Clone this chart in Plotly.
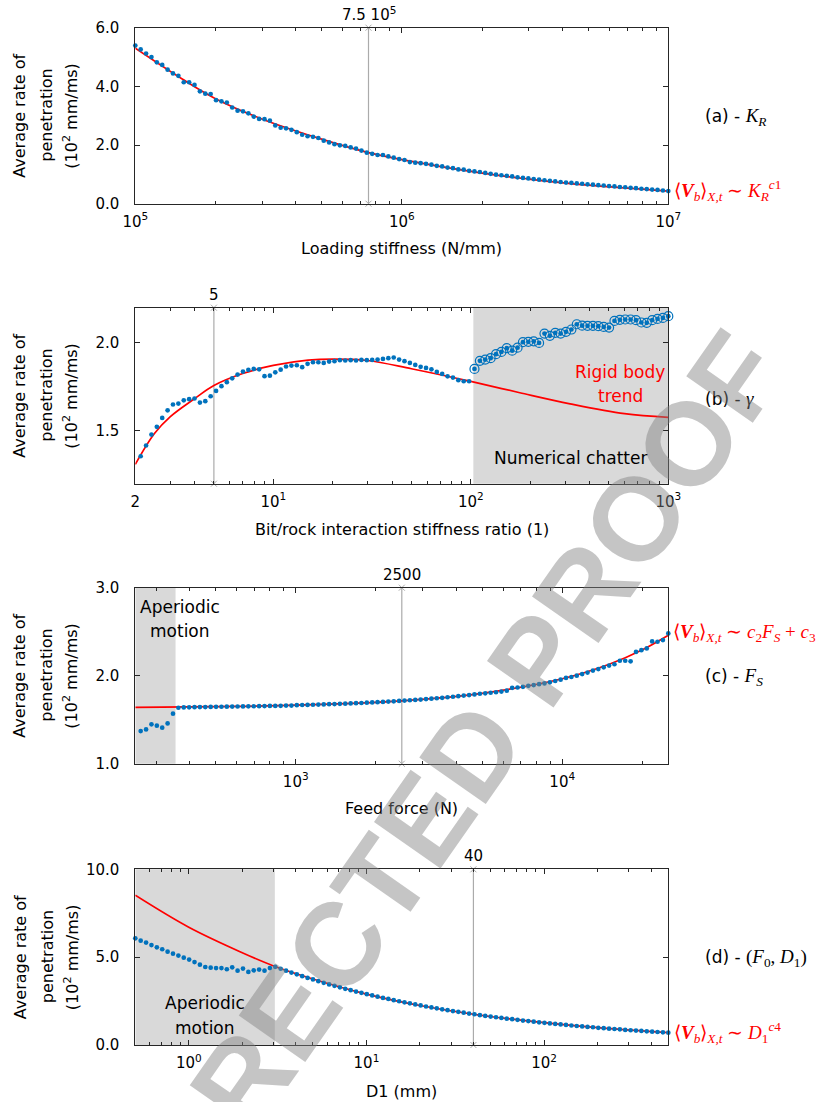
import numpy as np
import plotly.graph_objects as go

# ---------------- data ----------------
# (a) loading stiffness sweep
a_range = (1e5, 1e7)
a_rate = [5.39, 5.26, 5.12, 5.00, 4.82, 4.73, 4.57, 4.44, 4.36, 4.14,
          4.14, 4.05, 3.83, 3.75, 3.74, 3.53, 3.49, 3.45, 3.28, 3.17,
          3.15, 3.08, 2.97, 2.89, 2.88, 2.83, 2.67, 2.59, 2.57, 2.52,
          2.44, 2.35, 2.30, 2.28, 2.24, 2.15, 2.09, 2.03, 1.99, 1.97,
          1.92, 1.88, 1.81, 1.74, 1.70, 1.66, 1.66, 1.61, 1.57, 1.52,
          1.49, 1.42, 1.40, 1.38, 1.36, 1.33, 1.29, 1.27, 1.23, 1.21,
          1.17, 1.16, 1.12, 1.10, 1.08, 1.05, 1.02, 0.99, 0.97, 0.95,
          0.93, 0.90, 0.88, 0.86, 0.84, 0.82, 0.80, 0.78, 0.76, 0.74,
          0.72, 0.71, 0.69, 0.68, 0.66, 0.65, 0.63, 0.62, 0.60, 0.59,
          0.57, 0.56, 0.54, 0.53, 0.51, 0.50, 0.48, 0.47, 0.45, 0.43]
a_fit_x = [1e5, 1.5e5, 2e5, 3e5, 5e5, 7.5e5, 1e6, 2e6, 3e6, 5e6, 1e7]
a_fit = [5.30, 4.25, 3.58, 2.88, 2.20, 1.74, 1.50, 1.04, 0.84, 0.63, 0.43]
a_mark = 7.5e5

# (b) bit/rock interaction stiffness ratio sweep
b_range = (2, 1000)
b_rate = [1.309, 1.356, 1.417, 1.479, 1.523, 1.574, 1.617, 1.650, 1.655, 1.674,
          1.680, 1.684, 1.661, 1.669, 1.697, 1.727, 1.754, 1.777, 1.799, 1.820,
          1.837, 1.847, 1.852, 1.850, 1.811, 1.814, 1.833, 1.848, 1.866, 1.871,
          1.873, 1.862, 1.881, 1.890, 1.890, 1.886, 1.894, 1.896, 1.902, 1.900,
          1.902, 1.900, 1.903, 1.902, 1.903, 1.905, 1.909, 1.913, 1.917, 1.905,
          1.896, 1.886, 1.875, 1.864, 1.858, 1.850, 1.835, 1.824, 1.810, 1.803,
          1.788, 1.782, 1.782, 1.852, 1.898, 1.905, 1.913, 1.936, 1.949, 1.970,
          1.956, 1.973, 2.004, 2.006, 2.009, 2.000, 2.053, 2.040, 2.057, 2.053,
          2.063, 2.076, 2.106, 2.098, 2.097, 2.097, 2.095, 2.091, 2.087, 2.125,
          2.131, 2.133, 2.133, 2.129, 2.116, 2.114, 2.129, 2.136, 2.142, 2.152]
b_chatter_from = 63          # first sample inside the numerical-chatter zone
b_chatter_x0 = 103
b_fit_x = [2, 2.5, 3, 4, 5, 7, 10, 15, 20, 30, 50, 100, 177, 318, 600, 1000]
b_fit = [1.31, 1.485, 1.58, 1.684, 1.758, 1.826, 1.872, 1.902, 1.908, 1.900,
         1.853, 1.781, 1.717, 1.654, 1.598, 1.577]
b_mark = 5

# (c) feed force sweep
c_range = (250, 25000)
c_rate = [1.458, 1.371, 1.390, 1.447, 1.432, 1.409, 1.458, 1.568, 1.636, 1.640,
          1.641, 1.642, 1.643, 1.644, 1.645, 1.646, 1.647, 1.648, 1.649, 1.650,
          1.651, 1.652, 1.653, 1.654, 1.655, 1.656, 1.657, 1.658, 1.660, 1.661,
          1.665, 1.667, 1.668, 1.670, 1.672, 1.674, 1.676, 1.678, 1.680, 1.682,
          1.685, 1.688, 1.690, 1.693, 1.696, 1.699, 1.702, 1.706, 1.709, 1.713,
          1.717, 1.721, 1.725, 1.729, 1.734, 1.739, 1.744, 1.749, 1.755, 1.761,
          1.767, 1.774, 1.780, 1.787, 1.795, 1.800, 1.806, 1.812, 1.820, 1.830,
          1.862, 1.866, 1.874, 1.885, 1.893, 1.904, 1.912, 1.925, 1.940, 1.955,
          1.975, 1.985, 2.000, 2.018, 2.035, 2.058, 2.075, 2.095, 2.115, 2.130,
          2.170, 2.170, 2.163, 2.270, 2.290, 2.310, 2.390, 2.386, 2.405, 2.480]
c_aperiodic_x1 = 354
c_fit_x = [250, 500, 1000, 2500, 5000, 10000, 15000, 20000, 25000]
c_fit = [1.640, 1.649, 1.665, 1.715, 1.800, 1.965, 2.130, 2.295, 2.460]
c_mark = 2500

# (d) D1 sweep
d_range = (0.5, 500)
d_rate = [6.07, 5.94, 5.83, 5.69, 5.56, 5.45, 5.31, 5.20, 5.09, 4.97,
          4.86, 4.72, 4.57, 4.44, 4.40, 4.38, 4.38, 4.31, 4.42, 4.23,
          4.35, 4.16, 4.25, 4.29, 4.23, 4.38, 4.45, 4.34, 4.23, 4.12,
          4.02, 3.92, 3.82, 3.73, 3.63, 3.54, 3.45, 3.37, 3.28, 3.20,
          3.12, 3.04, 2.97, 2.89, 2.82, 2.75, 2.68, 2.62, 2.55, 2.49,
          2.43, 2.37, 2.31, 2.25, 2.19, 2.14, 2.09, 2.03, 1.98, 1.93,
          1.89, 1.84, 1.79, 1.75, 1.70, 1.66, 1.62, 1.58, 1.54, 1.50,
          1.47, 1.43, 1.39, 1.36, 1.33, 1.29, 1.26, 1.23, 1.20, 1.17,
          1.14, 1.11, 1.08, 1.06, 1.03, 1.01, 0.98, 0.96, 0.93, 0.91,
          0.89, 0.86, 0.84, 0.82, 0.80, 0.78, 0.76, 0.74, 0.72, 0.70]
d_aperiodic_x1 = 3.05
d_fit_x = [0.5, 1, 2, 3, 5, 10, 20, 40, 100, 200, 500]
d_fit = [8.52, 6.70, 5.25, 4.50, 3.76, 2.90, 2.25, 1.75, 1.27, 0.99, 0.70]
d_mark = 40

# sample grids (the sweeps are log-spaced between their bounds)
a_x = np.geomspace(*a_range, len(a_rate))
b_x = np.geomspace(*b_range, len(b_rate))
c_x = np.geomspace(*c_range, len(c_rate))
d_x = np.geomspace(*d_range, len(d_rate))

# ---------------- style ----------------
W, H = 840, 1102
BLUE = '#0072BD'
RED = '#FF0000'
SHADE = '#d9d9d9'
VLINE = '#ababab'
AX = '#262626'
FONT = 'DejaVu Sans'
SERIF = 'Liberation Serif'
PX_L, PX_R = 135.3, 668.3
PANELS = [(27.7, 203.7), (307.7, 483.7), (587.7, 763.7), (869.3, 1045.0)]


def px(x):
    return x / W


def py(y):
    return 1 - y / H


fig = go.Figure()

sfx = ['', '2', '3', '4']
xs = [a_x, b_x, c_x, d_x]
ys = [a_rate, b_rate, c_rate, d_rate]
fx = [a_fit_x, b_fit_x, c_fit_x, d_fit_x]
fy = [a_fit, b_fit, c_fit, d_fit]
marks = [a_mark, b_mark, c_mark, d_mark]
yr = [(0, 6), (1.2, 2.2), (1, 3), (0, 10)]

for k in range(4):
    xa, ya = 'x' + sfx[k], 'y' + sfx[k]
    fig.add_trace(go.Scatter(
        x=[marks[k], marks[k]], y=[yr[k][0], yr[k][1]], mode='lines+markers',
        line=dict(color=VLINE, width=1.2),
        marker=dict(symbol='x-thin', size=6, line=dict(color=VLINE, width=1)),
        cliponaxis=False, xaxis=xa, yaxis=ya, showlegend=False, hoverinfo='skip'))
    fig.add_trace(go.Scatter(
        x=fx[k], y=fy[k], mode='lines',
        line=dict(color=RED, width=1.7, shape='spline', smoothing=1.0),
        xaxis=xa, yaxis=ya, showlegend=False))
    fig.add_trace(go.Scatter(
        x=xs[k], y=ys[k], mode='markers',
        marker=dict(color=BLUE, size=4.7, line=dict(width=0)),
        cliponaxis=False, xaxis=xa, yaxis=ya, showlegend=False))

fig.add_trace(go.Scatter(
    x=b_x[b_chatter_from:], y=b_rate[b_chatter_from:], mode='markers',
    marker=dict(symbol='circle-open', color=BLUE, size=9, line=dict(width=1.2, color=BLUE)),
    cliponaxis=False, xaxis='x2', yaxis='y2', showlegend=False))

shapes = [
    dict(type='rect', xref='x2', yref='y2 domain', x0=b_chatter_x0, x1=b_range[1], y0=0, y1=1,
         fillcolor=SHADE, line=dict(width=0), layer='below'),
    dict(type='rect', xref='x3', yref='y3 domain', x0=c_range[0], x1=c_aperiodic_x1, y0=0, y1=1,
         fillcolor=SHADE, line=dict(width=0), layer='below'),
    dict(type='rect', xref='x4', yref='y4 domain', x0=d_range[0], x1=d_aperiodic_x1, y0=0, y1=1,
         fillcolor=SHADE, line=dict(width=0), layer='below'),
]


def minor_vals(lo_dec, hi_dec, lo, hi):
    out = []
    for d in range(lo_dec, hi_dec + 1):
        for m in range(2, 10):
            v = m * 10.0 ** d
            if lo < v < hi:
                out.append(v)
    return out


x_ticks = [
    ([1e5, 1e6, 1e7], ['10<sup>5</sup>', '10<sup>6</sup>', '10<sup>7</sup>']),
    ([2, 10, 100, 1000], ['2', '10<sup>1</sup>', '10<sup>2</sup>', '10<sup>3</sup>']),
    ([1000, 10000], ['10<sup>3</sup>', '10<sup>4</sup>']),
    ([1, 10, 100], ['10<sup>0</sup>', '10<sup>1</sup>', '10<sup>2</sup>']),
]
x_ranges = [a_range, b_range, c_range, d_range]
y_ticks = [
    ([0, 2, 4, 6], ['0.0', '2.0', '4.0', '6.0']),
    ([1.5, 2.0], ['1.5', '2.0']),
    ([1, 2, 3], ['1.0', '2.0', '3.0']),
    ([0, 5, 10], ['0.0', '5.0', '10.0']),
]

layout = dict(
    width=W, height=H, margin=dict(l=0, r=0, t=0, b=0, pad=0, autoexpand=False),
    paper_bgcolor='white', plot_bgcolor='rgba(0,0,0,0)',
    font=dict(family=FONT, size=15, color='#000'),
    showlegend=False, shapes=shapes,
)

for k in range(4):
    top, bot = PANELS[k]
    lo, hi = x_ranges[k]
    layout['xaxis' + sfx[k]] = dict(
        domain=[px(PX_L), px(PX_R)], anchor='y' + sfx[k], type='log',
        range=[np.log10(lo), np.log10(hi)], automargin=False,
        tickvals=x_ticks[k][0], ticktext=x_ticks[k][1],
        ticks='inside', ticklen=5, tickwidth=1, tickcolor=AX,
        showline=True, linecolor=AX, linewidth=1, mirror='ticks',
        showgrid=False, zeroline=False, ticklabelstandoff=4,
        tickfont=dict(family=FONT, size=15, color='#000'),
        minor=dict(tickmode='array',
                   tickvals=minor_vals(int(np.floor(np.log10(lo))), int(np.ceil(np.log10(hi))), lo, hi),
                   ticks='inside', ticklen=3, tickwidth=1, tickcolor=AX, showgrid=False),
    )
    layout['yaxis' + sfx[k]] = dict(
        domain=[py(bot), py(top)], anchor='x' + sfx[k], automargin=False,
        range=list(yr[k]), tickvals=y_ticks[k][0], ticktext=y_ticks[k][1],
        ticks='inside', ticklen=5, tickwidth=1, tickcolor=AX,
        showline=True, linecolor=AX, linewidth=1, mirror='ticks',
        showgrid=False, zeroline=False, ticklabelstandoff=12,
        tickfont=dict(family=FONT, size=15, color='#000'),
    )

ann = []


def text(t, x, y, size=16, color='#000', family=FONT, xanchor='center', yanchor='middle', angle=0):
    ann.append(dict(text=t, x=px(x), y=py(y), xref='paper', yref='paper', showarrow=False,
                    xanchor=xanchor, yanchor=yanchor, textangle=angle,
                    font=dict(family=family, size=size, color=color)))


x_titles = ['Loading stiffness (N/mm)', 'Bit/rock interaction stiffness ratio (1)',
            'Feed force (N)', 'D1 (mm)']
x_title_y = [248, 529, 808, 1091]
for k in range(4):
    top, bot = PANELS[k]
    cy = (top + bot) / 2
    text('Average rate of', 20, cy, angle=-90)
    text('penetration', 47, cy, angle=-90)
    text('(10<sup>2</sup> mm/ms)', 71, cy, angle=-90)
    text(x_titles[k], (PX_L + PX_R) / 2, x_title_y[k])

top_lbl = ['7.5 10<sup>5</sup>', '5', '2500', '40']
for k in range(4):
    ann.append(dict(text=top_lbl[k], x=np.log10(marks[k]), y=1, xref='x' + sfx[k],
                    yref='y' + sfx[k] + ' domain', yanchor='bottom', yshift=2, showarrow=False,
                    font=dict(family=FONT, size=15, color='#000')))


def serif(s, size=19):
    return '<span style="font-family:%s;font-size:%dpx">%s</span>' % (SERIF, size, s)


text('(a) - ' + serif('<i>K</i><sub><i>R</i></sub>'), 703, 117, size=17, xanchor='left')
text('(b) - ' + serif('<i>γ</i>'), 703, 398, size=17, xanchor='left')
text('(c) - ' + serif('<i>F</i><sub><i>S</i></sub>'), 703, 677, size=17, xanchor='left')
text('(d) - ' + serif('(<i>F</i><sub>0</sub>, <i>D</i><sub>1</sub>)'), 703, 958, size=17, xanchor='left')

V = '⟨<b><i>V</i></b><sub><i>b</i></sub>⟩<sub><i>X,t</i></sub> ∼ '
text(V + '<i>K</i><sub><i>R</i></sub><sup><i>c</i>1</sup>', 672, 190, size=19, color=RED,
     family=SERIF, xanchor='left')
text(V + '<i>c</i><sub>2</sub><i>F</i><sub><i>S</i></sub> + <i>c</i><sub>3</sub>', 671, 633, size=19,
     color=RED, family=SERIF, xanchor='left')
text(V + '<i>D</i><sub>1</sub><sup><i>c</i>4</sup>', 672, 1032, size=19, color=RED,
     family=SERIF, xanchor='left')

text('Rigid body', 620, 372, size=17, color=RED)
text('trend', 620, 396, size=17, color=RED)
text('Numerical chatter', 570, 458, size=17)
text('Aperiodic', 180, 607, size=17)
text('motion', 180, 631, size=17)
text('Aperiodic', 205, 1003, size=17)
text('motion', 205, 1028, size=17)

# proof watermark
ann.append(dict(text='<b>CORRECTED PROOF</b>', x=px(412), y=py(838), xref='paper', yref='paper',
                showarrow=False, textangle=-55, xanchor='center', yanchor='middle',
                font=dict(family='Liberation Sans', size=118, color='rgba(128,128,128,0.46)')))

layout['annotations'] = ann
fig.update_layout(**layout)
fig.write_html('out.html',
               post_script="document.body.style.margin='0';document.body.style.padding='0';"
                           "document.documentElement.style.overflow='hidden';")
